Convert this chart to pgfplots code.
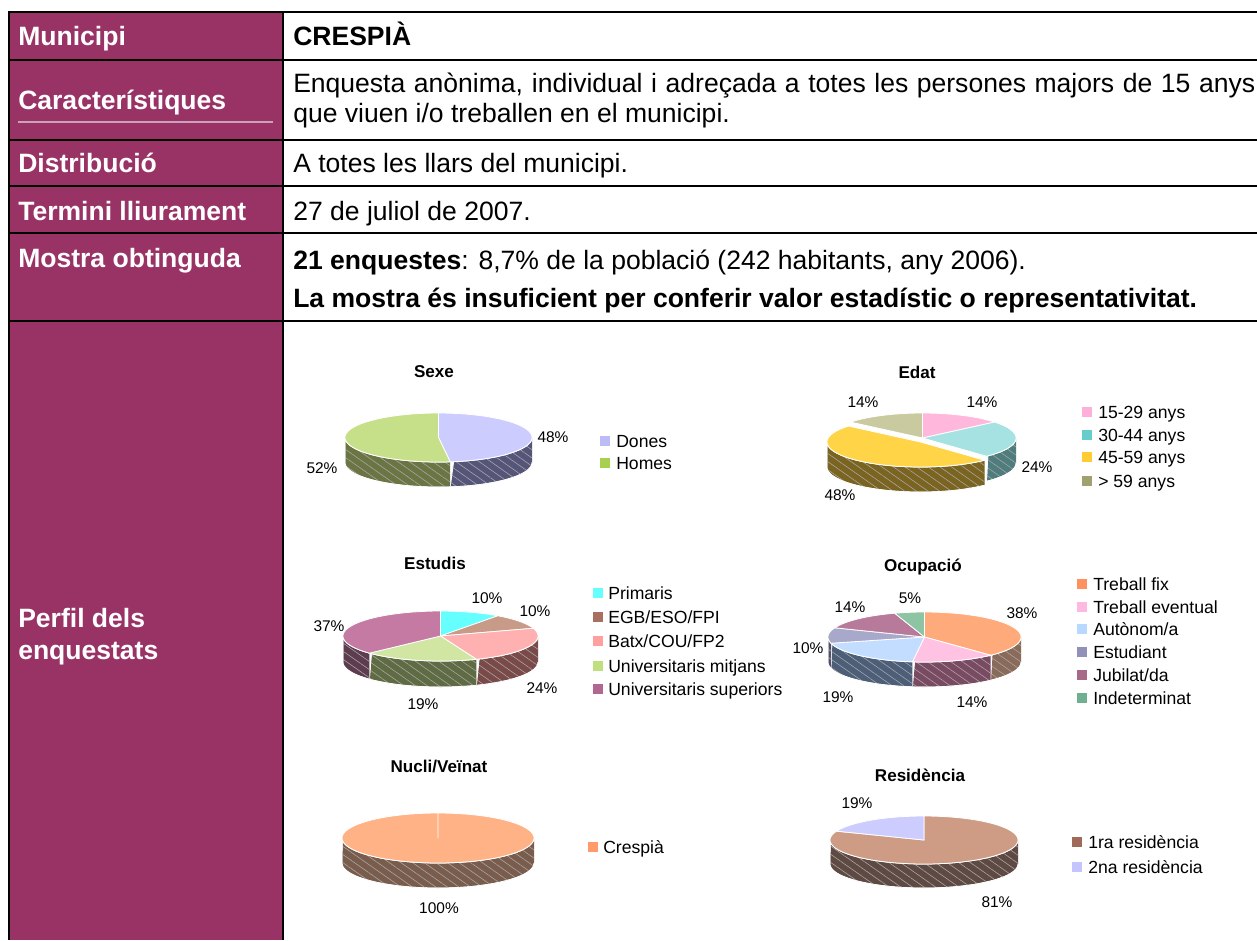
\documentclass[border=0pt]{standalone}
\usepackage{pgfplots}
\pgfplotsset{compat=1.18}
\usetikzlibrary{patterns.meta}
\usepackage{fontspec}
\setmainfont{Liberation Sans}

\definecolor{plum}{HTML}{993366}
\definecolor{plumline}{HTML}{C9A3B8}
% Sexe
\definecolor{donesT}{HTML}{CCCCFF}\definecolor{donesW}{HTML}{55557A}
\definecolor{homesT}{HTML}{C6E08A}\definecolor{homesW}{HTML}{6B7544}
\definecolor{donesL}{HTML}{BBBBF5}\definecolor{homesL}{HTML}{A8D050}
% Edat
\definecolor{e1T}{HTML}{FFB8DC}\definecolor{e1W}{HTML}{8A5A72}
\definecolor{e2T}{HTML}{A6E2E2}\definecolor{e2W}{HTML}{4F7C7C}
\definecolor{e3T}{HTML}{FFD447}\definecolor{e3W}{HTML}{7A6420}
\definecolor{e4T}{HTML}{CACAA0}\definecolor{e4W}{HTML}{66664A}
\definecolor{e1L}{HTML}{FFB0DA}\definecolor{e2L}{HTML}{66CCCC}
\definecolor{e3L}{HTML}{FFCC33}\definecolor{e4L}{HTML}{A0A070}
% Estudis
\definecolor{s1T}{HTML}{66FFFF}\definecolor{s1W}{HTML}{338080}
\definecolor{s2T}{HTML}{C89A88}\definecolor{s2W}{HTML}{664A40}
\definecolor{s3T}{HTML}{FFB0B0}\definecolor{s3W}{HTML}{7A4A48}
\definecolor{s4T}{HTML}{D0E6A2}\definecolor{s4W}{HTML}{5F6B42}
\definecolor{s5T}{HTML}{C47AA2}\definecolor{s5W}{HTML}{5C3C4E}
\definecolor{s1L}{HTML}{66FFFF}\definecolor{s2L}{HTML}{A87060}
\definecolor{s3L}{HTML}{FFA0A0}\definecolor{s4L}{HTML}{C0E080}
\definecolor{s5L}{HTML}{B06890}
% Ocupacio
\definecolor{o1T}{HTML}{FFAA7A}\definecolor{o1W}{HTML}{8A6A58}
\definecolor{o2T}{HTML}{FFC2E2}\definecolor{o2W}{HTML}{7A4A62}
\definecolor{o3T}{HTML}{C2DDFF}\definecolor{o3W}{HTML}{4C5E78}
\definecolor{o4T}{HTML}{A8A8CA}\definecolor{o4W}{HTML}{50506A}
\definecolor{o5T}{HTML}{B87A9A}\definecolor{o5W}{HTML}{5C3C4E}
\definecolor{o6T}{HTML}{8CC4A4}\definecolor{o6W}{HTML}{446050}
\definecolor{o1L}{HTML}{FF9060}\definecolor{o2L}{HTML}{FFB8E0}
\definecolor{o3L}{HTML}{B8D8FF}\definecolor{o4L}{HTML}{9090B8}
\definecolor{o5L}{HTML}{A86888}\definecolor{o6L}{HTML}{70B090}
% Nucli / Residencia
\definecolor{n1T}{HTML}{FFB286}\definecolor{n1W}{HTML}{7A5C4C}
\definecolor{n1L}{HTML}{FF9A6A}
\definecolor{r1T}{HTML}{CE9C84}\definecolor{r1W}{HTML}{5E4A42}
\definecolor{r2T}{HTML}{CCCCFF}\definecolor{r2W}{HTML}{55557A}
\definecolor{r1L}{HTML}{A06A58}\definecolor{r2L}{HTML}{C4C4FF}

\newcommand\tf{\fontsize{19.9pt}{23pt}\selectfont}
\newcommand\ttl{\fontsize{12.8pt}{15pt}\selectfont\bfseries}
\newcommand\lgf{\fontsize{13.2pt}{15pt}\selectfont}
\newcommand\lbf{\fontsize{11.6pt}{14pt}\selectfont}

% pie geometry: radii and depth, in pixels
\newcommand\setpie[3]{\def\rx{#1}\def\ry{#2}\def\dd{#3}}
% side wall of a slice: cx cy cumulative-start% cumulative-end% colour
\newcommand\pwall[5]{%
  \pgfmathsetmacro\As{min(90-3.6*(#3),0)}%
  \pgfmathsetmacro\Ae{max(90-3.6*(#4),-180)}%
  \ifdim\As pt>\Ae pt
    \edef\doit{\noexpand\addplot[fill=#5, draw=white, line width=0.5pt,
      postaction={pattern={Lines[angle=-35,distance=5pt,line width=0.45pt]}, pattern color=black!35},
      domain=0:2, samples=81, variable=\noexpand\t]
      ({#1+\rx*cos((\noexpand\t<1)*((\As)+((\Ae)-(\As))*\noexpand\t)+(\noexpand\t>=1)*((\Ae)-((\Ae)-(\As))*(\noexpand\t-1)))},
       {#2-\ry*sin((\noexpand\t<1)*((\As)+((\Ae)-(\As))*\noexpand\t)+(\noexpand\t>=1)*((\Ae)-((\Ae)-(\As))*(\noexpand\t-1)))+\dd*(\noexpand\t>=1)});}%
    \doit
  \fi}
% top face of a slice
\newcommand\pwedge[5]{%
  \pgfmathsetmacro\As{90-3.6*(#3)}%
  \pgfmathsetmacro\Ae{90-3.6*(#4)}%
  \edef\doit{\noexpand\addplot[fill=#5, draw=white, line width=0.6pt,
    domain=\Ae:\As, samples=90, variable=\noexpand\t]
    ({#1+\rx*cos(\noexpand\t)},{#2-\ry*sin(\noexpand\t)}) -- (#1,#2) -- cycle;}%
  \doit}
% legend swatch
\newcommand\swatch[3]{%
  \addplot[fill=#3, draw=none] coordinates {(#1,#2-5) (#1+10,#2-5) (#1+10,#2+5) (#1,#2+5)} -- cycle;}
\newcommand\lgtext[3]{\node[anchor=base west, inner sep=0pt, font=\lgf] at (axis cs:#1,#2+6.3) {#3};}
\newcommand\lbl[3]{\node[inner sep=0pt, font=\lbf] at (axis cs:#1,#2) {#3};}
\newcommand\ptitle[3]{\node[inner sep=0pt, font=\ttl] at (axis cs:#1,#2) {#3};}
\newcommand\ltab[2]{\node[anchor=base west, inner sep=0pt, font=\tf\bfseries, text=white] at (axis cs:18,#1) {#2};}
\newcommand\rtab[2]{\node[anchor=base west, inner sep=0pt, font=\tf] at (axis cs:293,#1) {#2};}
\newcommand\rowline[1]{\draw[black, line width=1.3pt] (axis cs:8,#1) -- (axis cs:1257,#1);}

\begin{document}
\begin{tikzpicture}
\begin{axis}[width=942.75pt, height=705pt, scale only axis,
  xmin=0, xmax=1257, ymin=0, ymax=940, y dir=reverse,
  hide axis, clip=false]

% ---------------- table ----------------
\fill[plum] (axis cs:9,12) rectangle (axis cs:283,940);
\draw[plumline, line width=0.8pt] (axis cs:18,122) -- (axis cs:273,122);
\rowline{12}\rowline{60}\rowline{140}\rowline{186}\rowline{233}\rowline{321}
\draw[black, line width=1.3pt] (axis cs:9,11) -- (axis cs:9,940);
\draw[black, line width=1.3pt] (axis cs:283,11) -- (axis cs:283,940);

\ltab{45.5}{Municipi}
\ltab{109.5}{Característiques}
\ltab{172.5}{Distribució}
\ltab{220}{Termini lliurament}
\ltab{267}{Mostra obtinguda}
\ltab{627.5}{Perfil dels}
\ltab{659.5}{enquestats}

\rtab{45.5}{\bfseries CRESPIÀ}
\rtab{92.5}{\makebox[721.5pt][s]{Enquesta anònima, individual i adreçada a totes les persones majors de 15 anys}}
\rtab{122.5}{que viuen i/o treballen en el municipi.}
\rtab{172.5}{A totes les llars del municipi.}
\rtab{220}{27 de juliol de 2007.}
\rtab{269.5}{\textbf{21 enquestes}: 8,7\% de la població (242 habitants, any 2006).}
\rtab{307.5}{\textbf{La mostra és insuficient per conferir valor estadístic o representativitat.}}

% ---------------- Sexe: Dones 48, Homes 52 ----------------
\setpie{93.5}{24.5}{25}
\pwall{438.5}{437.5}{0}{48}{donesW}
\pwall{438.5}{437.5}{48}{100}{homesW}
\pwedge{438.5}{437.5}{0}{48}{donesT}
\pwedge{438.5}{437.5}{48}{100}{homesT}
\ptitle{434}{372}{Sexe}
\lbl{553}{437}{48\%}
\lbl{322}{468}{52\%}
\swatch{600}{441}{donesL}\lgtext{616}{441}{Dones}
\swatch{600}{463}{homesL}\lgtext{616}{463}{Homes}

% ---------------- Edat: 14, 24, 48, 14 ----------------
\setpie{93.5}{25}{25}
\pwall{922.5}{438}{0}{14}{e1W}
\pwall{922.5}{438}{14}{38}{e2W}
\pwall{922.5}{438}{86}{100}{e4W}
\pwedge{922.5}{438}{0}{14}{e1T}
\pwedge{922.5}{438}{14}{38}{e2T}
\pwedge{922.5}{438}{86}{100}{e4T}
\pwall{920.5}{442}{38}{86}{e3W}
\pwedge{920.5}{442}{38}{86}{e3T}
\ptitle{917}{372}{Edat}
\lbl{982}{402}{14\%}
\lbl{863}{402}{14\%}
\lbl{1037}{467}{24\%}
\lbl{840}{495}{48\%}
\swatch{1082}{412}{e1L}\lgtext{1098}{412}{15-29 anys}
\swatch{1082}{435}{e2L}\lgtext{1098}{435}{30-44 anys}
\swatch{1082}{457}{e3L}\lgtext{1098}{457}{45-59 anys}
\swatch{1082}{481}{e4L}\lgtext{1098}{481}{> 59 anys}

% ---------------- Estudis: 10, 10, 24, 19, 37 ----------------
\setpie{97.5}{25}{26}
\pwall{440.5}{636}{0}{10}{s1W}
\pwall{440.5}{636}{10}{20}{s2W}
\pwall{440.5}{636}{20}{44}{s3W}
\pwall{440.5}{636}{44}{63}{s4W}
\pwall{440.5}{636}{63}{100}{s5W}
\pwedge{440.5}{636}{0}{10}{s1T}
\pwedge{440.5}{636}{10}{20}{s2T}
\pwedge{440.5}{636}{20}{44}{s3T}
\pwedge{440.5}{636}{44}{63}{s4T}
\pwedge{440.5}{636}{63}{100}{s5T}
\ptitle{435}{563}{Estudis}
\lbl{487}{598}{10\%}
\lbl{535}{611}{10\%}
\lbl{542}{688}{24\%}
\lbl{423}{704}{19\%}
\lbl{329}{626}{37\%}
\swatch{593}{593}{s1L}\lgtext{608}{593}{Primaris}
\swatch{593}{617}{s2L}\lgtext{608}{617}{EGB/ESO/FPI}
\swatch{593}{641}{s3L}\lgtext{608}{641}{Batx/COU/FP2}
\swatch{593}{666}{s4L}\lgtext{608}{666}{Universitaris mitjans}
\swatch{593}{689}{s5L}\lgtext{608}{689}{Universitaris superiors}

% ---------------- Ocupacio: 38, 14, 19, 10, 14, 5 ----------------
\setpie{96.5}{25}{25}
\pwall{924.5}{637}{0}{38}{o1W}
\pwall{924.5}{637}{38}{52}{o2W}
\pwall{924.5}{637}{52}{71}{o3W}
\pwall{924.5}{637}{71}{81}{o4W}
\pwall{924.5}{637}{81}{95}{o5W}
\pwall{924.5}{637}{95}{100}{o6W}
\pwedge{924.5}{637}{0}{38}{o1T}
\pwedge{924.5}{637}{38}{52}{o2T}
\pwedge{924.5}{637}{52}{71}{o3T}
\pwedge{924.5}{637}{71}{81}{o4T}
\pwedge{924.5}{637}{81}{95}{o5T}
\pwedge{924.5}{637}{95}{100}{o6T}
\ptitle{923}{567}{Ocupació}
\lbl{1022}{613}{38\%}
\lbl{972}{702}{14\%}
\lbl{838}{697}{19\%}
\lbl{808}{648}{10\%}
\lbl{850}{607}{14\%}
\lbl{910}{598}{5\%}
\swatch{1077}{584}{o1L}\lgtext{1093}{584}{Treball fix}
\swatch{1077}{607}{o2L}\lgtext{1093}{607}{Treball eventual}
\swatch{1077}{629}{o3L}\lgtext{1093}{629}{Autònom/a}
\swatch{1077}{652}{o4L}\lgtext{1093}{652}{Estudiant}
\swatch{1077}{675}{o5L}\lgtext{1093}{675}{Jubilat/da}
\swatch{1077}{698}{o6L}\lgtext{1093}{698}{Indeterminat}

% ---------------- Nucli/Veinat: 100 ----------------
\setpie{96}{25}{25}
\pwall{438}{838}{0}{100}{n1W}
\pwedge{438}{838}{0}{100}{n1T}
\ptitle{439}{766}{Nucli/Veïnat}
\lbl{439}{908}{100\%}
\swatch{588}{847}{n1L}\lgtext{603}{847}{Crespià}

% ---------------- Residencia: 81, 19 ----------------
\setpie{94}{24}{24}
\pwall{924}{840}{0}{81}{r1W}
\pwall{924}{840}{81}{100}{r2W}
\pwedge{924}{840}{0}{81}{r1T}
\pwedge{924}{840}{81}{100}{r2T}
\ptitle{920}{775}{Residència}
\lbl{857}{803}{19\%}
\lbl{997}{902}{81\%}
\swatch{1072}{842}{r1L}\lgtext{1088}{842}{1ra residència}
\swatch{1072}{867}{r2L}\lgtext{1088}{867}{2na residència}

\end{axis}
\pgfresetboundingbox
\useasboundingbox (0,0) rectangle (942.75pt,705pt);
\end{tikzpicture}
\end{document}
